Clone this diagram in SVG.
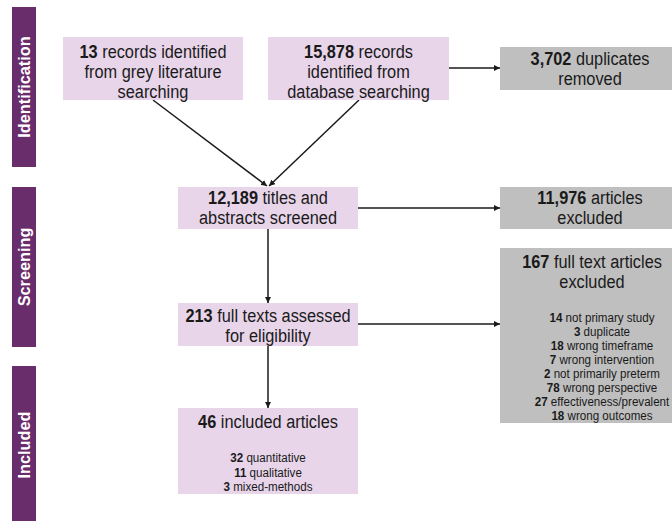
<svg xmlns="http://www.w3.org/2000/svg" width="672" height="521" viewBox="0 0 672 521">
<defs>
<marker id="ah" viewBox="0 0 10 10" refX="10" refY="5" markerWidth="4" markerHeight="4" orient="auto" markerUnits="strokeWidth">
<path d="M0,0 L10,5 L0,10 z" fill="#1a1a1a"/>
</marker>
</defs>
<style>
.bar{fill:#6a2d6c}
.bt{font-family:"Liberation Sans",Arial,sans-serif;font-weight:bold;font-size:16.3px;fill:#ffffff;text-anchor:middle}
.pb{fill:#e8d5ea}
.gb{fill:#bfbfbf}
.t{font-family:"Liberation Sans",Arial,sans-serif;font-size:19px;fill:#1a1a1a;text-anchor:middle}
.s{font-family:"Liberation Sans",Arial,sans-serif;font-size:13.5px;fill:#1a1a1a;text-anchor:middle}
.b{font-weight:bold}
.c{stroke:#1a1a1a;stroke-width:1.5;fill:none;marker-end:url(#ah)}
</style>
<rect width="672" height="521" fill="#ffffff"/>
<g id="phase-identification">
<rect class="bar" x="12" y="7" width="24" height="160"/>
<text class="bt" transform="translate(30,87) rotate(-90)">Identification</text>
</g>
<g id="phase-screening">
<rect class="bar" x="12" y="187" width="24" height="160"/>
<text class="bt" transform="translate(30,267) rotate(-90)">Screening</text>
</g>
<g id="phase-included">
<rect class="bar" x="12" y="366" width="24" height="160"/>
<text class="bt" transform="translate(30,445) rotate(-90)">Included</text>
</g>
<g id="connectors">
<line class="c" x1="153" y1="100" x2="267" y2="186"/>
<line class="c" x1="359" y1="100" x2="269" y2="186"/>
<line class="c" x1="449" y1="68" x2="500" y2="68"/>
<line class="c" x1="358" y1="208" x2="500" y2="208"/>
<line class="c" x1="268" y1="229" x2="268" y2="303"/>
<line class="c" x1="358" y1="324" x2="500" y2="324"/>
<line class="c" x1="268" y1="346" x2="268" y2="408"/>
</g>
<g id="grey-literature">
<rect class="pb" x="63" y="37" width="180" height="63"/>
<g transform="translate(153,0) scale(0.86,1)">
<text class="t" x="0" y="58"><tspan class="b">13</tspan> records identified</text>
<text class="t" x="0" y="78">from grey literature</text>
<text class="t" x="0" y="98">searching</text>
</g>
</g>
<g id="database">
<rect class="pb" x="268" y="37" width="181" height="63"/>
<g transform="translate(358.5,0) scale(0.86,1)">
<text class="t" x="0" y="58"><tspan class="b">15,878</tspan> records</text>
<text class="t" x="0" y="78">identified from</text>
<text class="t" x="0" y="98">database searching</text>
</g>
</g>
<g id="duplicates">
<rect class="gb" x="500" y="47" width="180" height="43"/>
<g transform="translate(590,0) scale(0.86,1)">
<text class="t" x="0" y="65"><tspan class="b">3,702</tspan> duplicates</text>
<text class="t" x="0" y="85">removed</text>
</g>
</g>
<g id="screened">
<rect class="pb" x="178" y="187" width="180" height="42"/>
<g transform="translate(268,0) scale(0.86,1)">
<text class="t" x="0" y="204.5"><tspan class="b">12,189</tspan> titles and</text>
<text class="t" x="0" y="224.5">abstracts screened</text>
</g>
</g>
<g id="excluded-abstracts">
<rect class="gb" x="500" y="187" width="180" height="42"/>
<g transform="translate(590,0) scale(0.86,1)">
<text class="t" x="0" y="204.5"><tspan class="b">11,976</tspan> articles</text>
<text class="t" x="0" y="224.5">excluded</text>
</g>
</g>
<g id="full-texts">
<rect class="pb" x="178" y="303" width="180" height="43"/>
<g transform="translate(268,0) scale(0.86,1)">
<text class="t" x="0" y="322"><tspan class="b">213</tspan> full texts assessed</text>
<text class="t" x="0" y="342">for eligibility</text>
</g>
</g>
<g id="excluded-full-texts">
<rect class="gb" x="500" y="248" width="180" height="175"/>
<g transform="translate(592,0) scale(0.86,1)">
<text class="t" x="0" y="268"><tspan class="b">167</tspan> full text articles</text>
<text class="t" x="0" y="288.5">excluded</text>
</g>
<g transform="translate(602,0) scale(0.86,1)">
<text class="s" x="0" y="322"><tspan class="b">14</tspan> not primary study</text>
<text class="s" x="0" y="336"><tspan class="b">3</tspan> duplicate</text>
<text class="s" x="0" y="350"><tspan class="b">18</tspan> wrong timeframe</text>
<text class="s" x="0" y="364"><tspan class="b">7</tspan> wrong intervention</text>
<text class="s" x="0" y="378"><tspan class="b">2</tspan> not primarily preterm</text>
<text class="s" x="0" y="392"><tspan class="b">78</tspan> wrong perspective</text>
<text class="s" x="0" y="406"><tspan class="b">27</tspan> effectiveness/prevalent</text>
<text class="s" x="0" y="420.5"><tspan class="b">18</tspan> wrong outcomes</text>
</g>
</g>
<g id="included">
<rect class="pb" x="178" y="408" width="180" height="86"/>
<g transform="translate(268,0) scale(0.86,1)">
<text class="t" x="0" y="428.5"><tspan class="b">46</tspan> included articles</text>
<text class="s" x="0" y="462"><tspan class="b">32</tspan> quantitative</text>
<text class="s" x="0" y="477"><tspan class="b">11</tspan> qualitative</text>
<text class="s" x="0" y="491"><tspan class="b">3</tspan> mixed-methods</text>
</g>
</g>
</svg>
